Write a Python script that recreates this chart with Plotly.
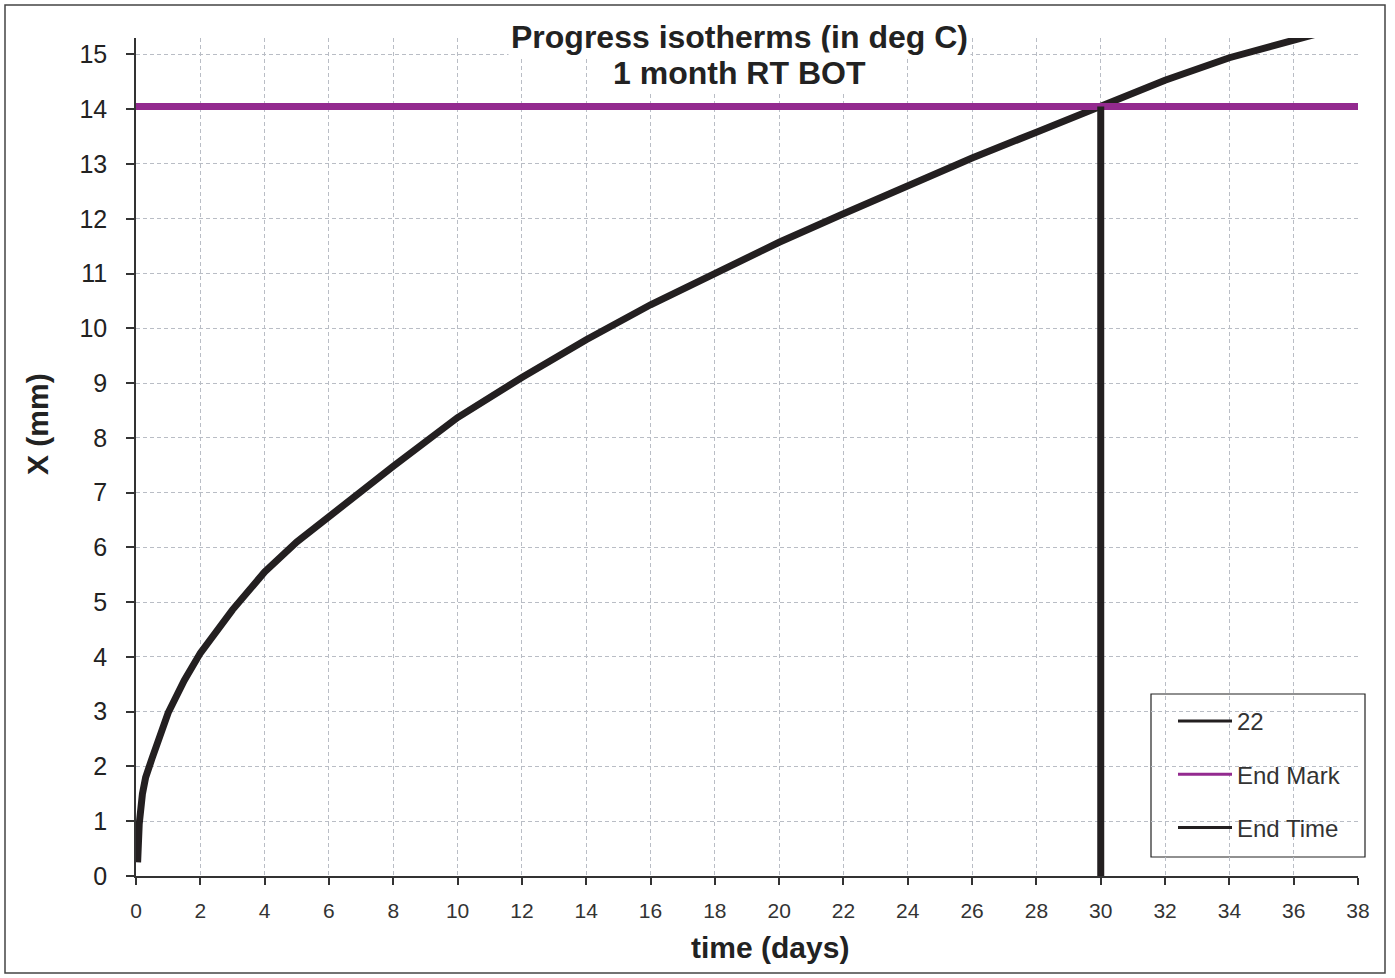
import plotly.graph_objects as go

# ---- data ----
days = [0.05, 0.1, 0.2, 0.3, 0.5, 0.8, 1, 1.5, 2, 3, 4, 5, 6, 7, 8, 9, 10, 12, 14, 16, 18,
        20, 22, 24, 26, 28, 30, 32, 34, 36, 37]
x_mm = [0.25, 0.95, 1.5, 1.8, 2.15, 2.66, 2.98, 3.57, 4.07, 4.86, 5.55, 6.1, 6.58, 7.02, 7.48,
        7.93, 8.37, 9.1, 9.79, 10.43, 11.01, 11.57, 12.09, 12.61, 13.11, 13.58, 14.06,
        14.53, 14.94, 15.24, 15.42]
end_mark_x = [0, 38]
end_mark_y = [14.05, 14.05]
end_time_x = [30, 30]
end_time_y = [0, 14.05]
x_ticks = list(range(0, 39, 2))
y_ticks = list(range(0, 16))
legend_names = ["22", "End Mark", "End Time"]

FONT = "Liberation Sans, Arial, sans-serif"
BLACK = "#231f20"
PURPLE = "#932a8f"
GRID = "#b9bdc5"
colors = [BLACK, PURPLE, BLACK]

fig = go.Figure()
fig.add_trace(go.Scatter(x=days, y=x_mm, mode="lines", name="22", showlegend=False,
                         line=dict(color=BLACK, width=7)))
fig.add_trace(go.Scatter(x=end_mark_x, y=end_mark_y, mode="lines", name="End Mark",
                         showlegend=False, line=dict(color=PURPLE, width=7)))
fig.add_trace(go.Scatter(x=end_time_x, y=end_time_y, mode="lines", name="End Time",
                         showlegend=False, line=dict(color=BLACK, width=7)))
# legend entries (thin sample lines as in the reference)
for i, (nm, c) in enumerate(zip(legend_names, colors)):
    fig.add_trace(go.Scatter(x=[None], y=[None], mode="lines", name=nm,
                             legendgroup=str(i), line=dict(color=c, width=3)))

fig.update_layout(
    width=1395, height=978,
    margin=dict(l=136, r=37, t=38, b=102),
    paper_bgcolor="white", plot_bgcolor="white",
    font=dict(family=FONT, color="#222"),
    showlegend=True,
    legend=dict(x=(1173 - 136) / 1222, y=(876 - 699) / 838, xanchor="left", yanchor="top",
                bgcolor="rgba(0,0,0,0)", borderwidth=0,
                font=dict(family=FONT, size=24, color="#333"),
                tracegroupgap=19, traceorder="grouped",
                entrywidth=170, entrywidthmode="pixels", itemwidth=54),
    xaxis=dict(range=[0, 38], tickmode="array", tickvals=x_ticks,
               ticktext=[str(v) for v in x_ticks],
               showgrid=True, gridcolor=GRID, gridwidth=1, griddash="4px,3px",
               showline=True, linecolor="#333", linewidth=1.5,
               ticks="outside", ticklen=7, tickcolor="#333", tickwidth=1.5,
               tickfont=dict(family=FONT, size=21, color="#333"),
               ticklabelstandoff=8, zeroline=False),
    yaxis=dict(range=[0, 15.3], tickmode="array", tickvals=y_ticks,
               ticktext=[str(v) for v in y_ticks],
               showgrid=True, gridcolor=GRID, gridwidth=1, griddash="4px,3px",
               showline=True, linecolor="#333", linewidth=1.5,
               ticks="outside", ticklen=8, tickcolor="#333", tickwidth=1.5,
               tickfont=dict(family=FONT, size=25, color="#222"),
               ticklabelstandoff=14, zeroline=False),
)

# legend frame (white box that hides gridlines, drawn below the traces)
fig.add_shape(type="rect", xref="paper", yref="paper", layer="between",
              x0=(1151 - 136) / 1222, x1=(1365 - 136) / 1222,
              y0=(876 - 857) / 838, y1=(876 - 694) / 838,
              line=dict(color="#222", width=1.2), fillcolor="white")

# title lines (white box hides gridlines behind them)
fig.add_annotation(text="<b>Progress isotherms (in deg C)</b>", xref="paper", yref="paper",
                   x=0.494, y=(876 - 37) / 838, xanchor="center", yanchor="middle",
                   showarrow=False, bgcolor="white", borderpad=2,
                   font=dict(family=FONT, size=32, color="#222"))
fig.add_annotation(text="<b>1 month RT BOT</b>", xref="paper", yref="paper",
                   x=0.494, y=(876 - 73) / 838, xanchor="center", yanchor="middle",
                   showarrow=False, bgcolor="white", borderpad=2,
                   font=dict(family=FONT, size=32, color="#222"))
# axis titles
fig.add_annotation(text="<b>X (mm)</b>", xref="paper", yref="paper",
                   x=(37 - 136) / 1222, y=(876 - 424) / 838, xanchor="center",
                   yanchor="middle", textangle=-90, showarrow=False,
                   font=dict(family=FONT, size=30, color="#222"))
fig.add_annotation(text="<b>time (days)</b>", xref="paper", yref="paper",
                   x=(770 - 136) / 1222, y=(876 - 947) / 838, xanchor="center",
                   yanchor="middle", showarrow=False,
                   font=dict(family=FONT, size=30, color="#222"))

# outer chart border
fig.add_shape(type="rect", xref="paper", yref="paper",
              x0=(5 - 136) / 1222, x1=(1385 - 136) / 1222,
              y0=(876 - 973) / 838, y1=(876 - 5) / 838,
              line=dict(color="#444", width=1.5), fillcolor="rgba(0,0,0,0)")

fig.write_html("out.html", config={"displayModeBar": False},
               post_script="document.body.style.margin='0';document.body.style.overflow='hidden';")
